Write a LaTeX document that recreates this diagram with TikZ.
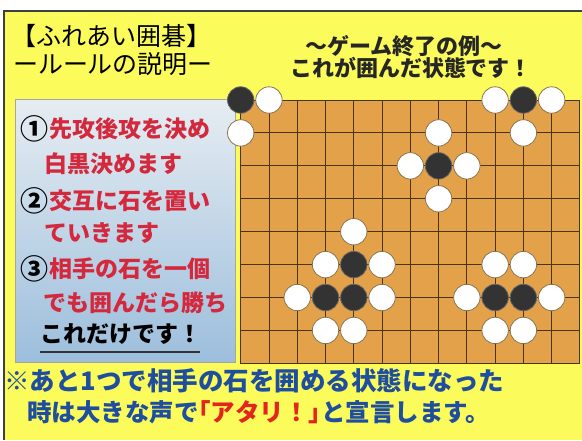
\documentclass[tikz,border=0pt]{standalone}
\usepackage{fontspec}
\setmainfont{Noto Sans CJK JP}
\usepackage{xcolor}
\usetikzlibrary{calc}
\definecolor{goyellow}{HTML}{FBFB5C}
\definecolor{goboard}{HTML}{E3A24A}
\definecolor{goline}{HTML}{4A3414}
\definecolor{gostone}{HTML}{333333}
\definecolor{goedge}{HTML}{8A7450}
\definecolor{gored}{HTML}{D4283C}
\definecolor{goatari}{HTML}{E2261E}
\definecolor{goblue}{HTML}{1F4E9E}
\definecolor{gopaneltop}{HTML}{E6EDF2}
\definecolor{gopanelbot}{HTML}{9CBEDC}
\newcommand{\stepmark}[1]{\raisebox{-2pt}{\textcolor{black}{\fontsize{28}{28}\selectfont #1}}\kern1pt}

\begin{document}
\begin{tikzpicture}[x=1pt, y=-1pt,
  jptext/.style={inner sep=0pt, text height=0.88em, text depth=0.12em},
  gridline/.style={goline, line width=0.9pt},
  whitestone/.style={fill=white, draw=goedge, line width=0.8pt},
  blackstone/.style={fill=gostone, draw=black!60, line width=0.8pt},
  rule/.style={jptext, anchor=west, text=gored,
    font=\fontsize{23}{23}\selectfont\bfseries}]
  \useasboundingbox (0,0) rectangle (582,440);
  \def\bx{240.7}
  \def\by{100}
  \def\cw{28.27}
  \def\ch{32.92}
  % Background and frame
  \fill[white] (0,0) rectangle (582,440);
  \fill[goyellow] (4,11) rectangle (582,440);
  \draw[black!75, line width=1.5pt] (4,440) -- (4,11) -- (582,11);
  % Title
  \node[jptext, font=\fontsize{25}{25}\selectfont] (title) at (112,42)
    {【ふれあい囲碁】};
  \node[jptext, font=\fontsize{25}{25}\selectfont] (subtitle) at (113,70)
    {ールールの説明ー};
  % Rules panel
  \shade[top color=gopaneltop, bottom color=gopanelbot, draw=black!35]
    (15,99) rectangle (235,362);
  \node[rule] (rule1) at (20,134) {\stepmark{①}先攻後攻を決め};
  \node[rule] (rule1b) at (44,169) {白黒決めます};
  \node[rule] (rule2) at (20,206) {\stepmark{②}交互に石を置い};
  \node[rule] (rule2b) at (44,238) {ていきます};
  \node[rule] (rule3) at (20,274) {\stepmark{③}相手の石を一個};
  \node[rule] (rule3b) at (43,308) {でも囲んだら勝ち};
  \node[rule, text=black] (only) at (40,339) {これだけです！};
  \draw[black!80, line width=1.4pt] (40,352) -- (200,352);
  % Example caption
  \node[jptext, font=\fontsize{22}{22}\selectfont\bfseries, text=black!85]
    (example) at (404,51) {～ゲーム終了の例～};
  \node[jptext, font=\fontsize{22}{22}\selectfont\bfseries, text=black!85]
    (surround) at (411,73) {これが囲んだ状態です！};
  % Board
  \fill[goboard] (\bx,\by) rectangle (\bx+12*\cw,\by+8*\ch);
  \foreach \c in {1,...,11}
    \draw[gridline] (\bx+\c*\cw,\by) -- (\bx+\c*\cw,\by+8*\ch);
  \foreach \r in {1,...,7}
    \draw[gridline] (\bx,\by+\r*\ch) -- (\bx+12*\cw,\by+\r*\ch);
  \draw[gridline] (\bx,\by) rectangle (\bx+12*\cw,\by+8*\ch);
  % Stones
  \foreach \c/\r in {0/0,10/0,7/2,4/5,3/6,4/6,9/6,10/6}
    \draw[blackstone] (\bx+\c*\cw,\by+\r*\ch) circle[radius=13.2pt];
  \foreach \c/\r in {1/0,0/1,9/0,11/0,10/1,7/1,6/2,8/2,7/3,
      4/4,3/5,5/5,2/6,5/6,3/7,4/7,9/5,10/5,8/6,11/6,9/7,10/7}
    \draw[whitestone] (\bx+\c*\cw,\by+\r*\ch) circle[radius=13.2pt];
  % Atari note
  \node[jptext, anchor=west, text=goblue,
    font=\fontsize{25.5}{25.5}\selectfont\bfseries] (note1) at (4,387)
    {※あと1つで相手の石を囲める状態になった};
  \node[jptext, anchor=west, text=goblue,
    font=\fontsize{24.5}{24.5}\selectfont\bfseries] (note2) at (27,418)
    {時は大きな声で\kern-0.5em\textcolor{goatari}{「アタリ！」}\kern-0.5em と宣言します。};
\end{tikzpicture}
\end{document}
